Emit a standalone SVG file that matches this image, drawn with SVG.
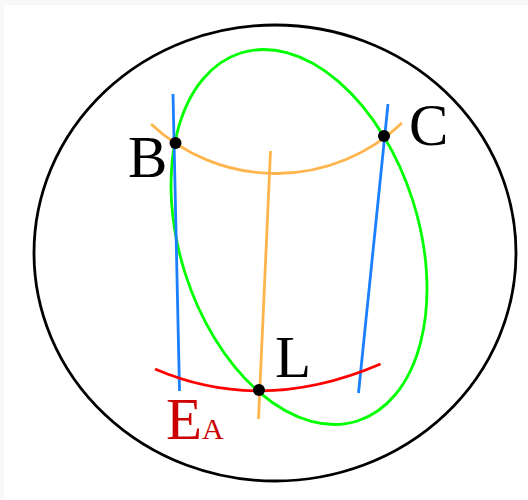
<svg xmlns="http://www.w3.org/2000/svg" width="528" height="500" viewBox="0 0 528 500">
<style>
.ln{fill:none;stroke-width:2.8;stroke-linecap:butt}
.blue{stroke:#1a80ff}
.orange{stroke:#ffb54d}
.red{stroke:#ff0000}
.green{stroke:#00ff00}
.lbl{font-family:"Liberation Serif","Times New Roman",serif;font-size:59px;fill:#000}
.dot{fill:#000}
</style>
<rect x="0" y="0" width="528" height="500" fill="#f8f8f8"/>
<rect x="4" y="5" width="524" height="495" fill="#ffffff"/>
<g id="sphere"><ellipse cx="275" cy="253" rx="241" ry="228" fill="none" stroke="#000" stroke-width="2.8"/></g>
<g id="connectors">
<ellipse class="ln green" cx="299" cy="237" rx="119.5" ry="193" transform="rotate(-17.6 299 237)"/>
<line class="ln blue" x1="173" y1="94" x2="179.5" y2="391"/>
<line class="ln blue" x1="388" y1="104" x2="358.5" y2="393"/>
<path class="ln orange" d="M151,124 A182.5,182.5 0 0 0 402,123"/>
<line class="ln orange" x1="270.5" y1="151" x2="258.5" y2="419"/>
<path class="ln red" d="M155,369 Q262,415 380.5,364"/>
</g>
<g id="B"><circle class="dot" cx="175.5" cy="143" r="6"/><text class="lbl" x="128" y="177">B</text></g>
<g id="C"><circle class="dot" cx="384" cy="136" r="6"/><text class="lbl" x="409" y="145">C</text></g>
<g id="L"><circle class="dot" cx="259" cy="390" r="6"/><text class="lbl" x="275" y="377">L</text></g>
<g id="EA"><text x="166" y="439" style="font-family:'Liberation Serif','Times New Roman',serif;fill:#cc0000"><tspan font-size="59">E</tspan><tspan font-size="30">A</tspan></text></g>
</svg>
